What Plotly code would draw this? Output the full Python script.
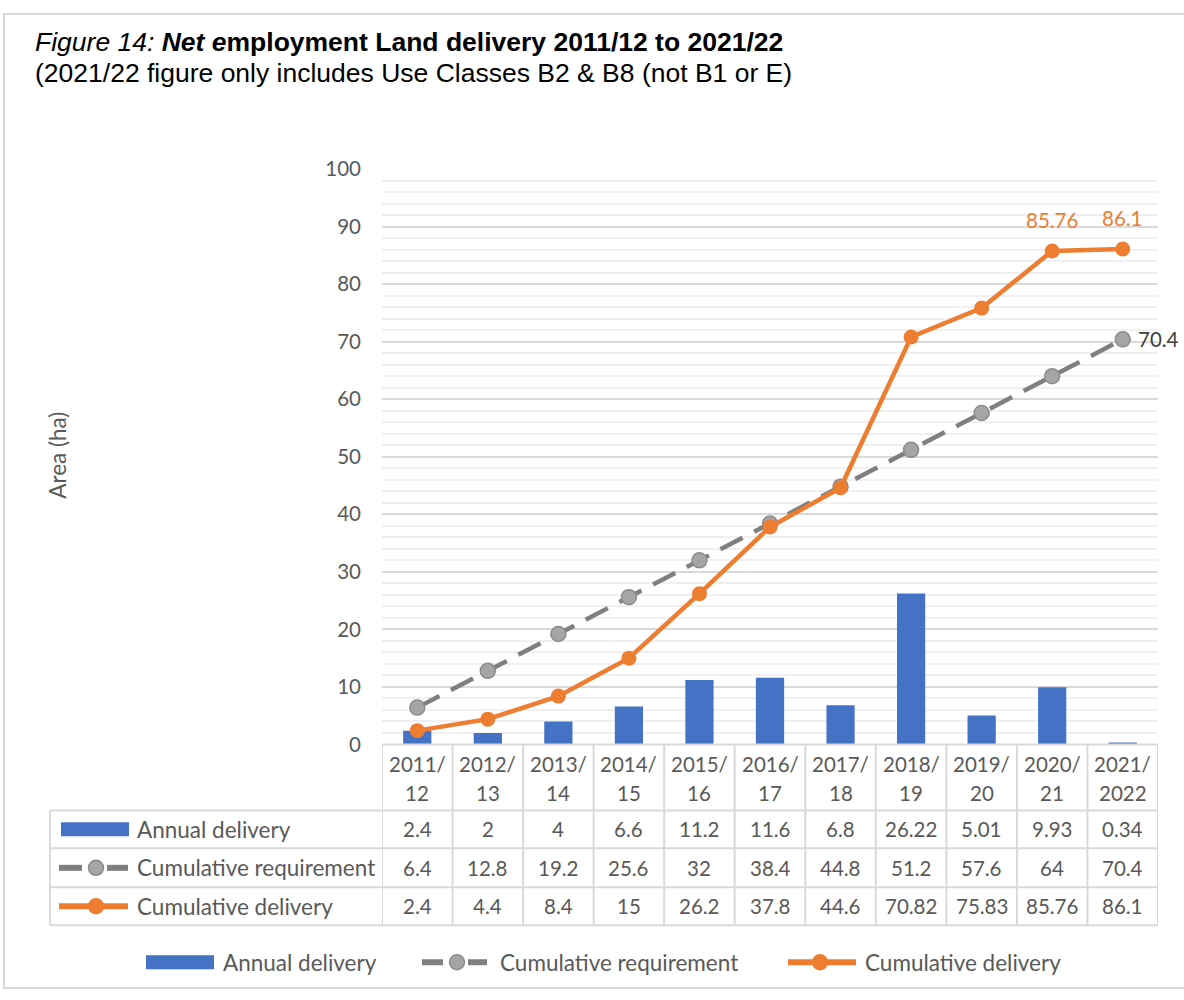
import plotly.graph_objects as go

# data
years = ["2011/12", "2012/13", "2013/14", "2014/15", "2015/16", "2016/17",
         "2017/18", "2018/19", "2019/20", "2020/21", "2021/2022"]
annual_delivery = [2.4, 2, 4, 6.6, 11.2, 11.6, 6.8, 26.22, 5.01, 9.93, 0.34]
cumulative_requirement = [6.4, 12.8, 19.2, 25.6, 32, 38.4, 44.8, 51.2, 57.6, 64, 70.4]
cumulative_delivery = [2.4, 4.4, 8.4, 15, 26.2, 37.8, 44.6, 70.82, 75.83, 85.76, 86.1]
series_names = ["Annual delivery", "Cumulative requirement", "Cumulative delivery"]

W, H = 1184, 1000
BLUE, GREY, GREY_DARK, ORANGE = "#4472C4", "#A5A5A5", "#7F7F7F", "#ED7D31"
TEXT = "#595959"
BORDER = "#D9D9D9"
FONT = "Lato"
NUM_SIZE = 20.5
LABEL_SIZE = 22.5

# the photographed page came out slightly squashed vertically, so target
# positions (measured on the reference) are mapped back before use
Y_OFF, Y_SCALE = 11.8, 0.977


def px(x):
    return x / W


def py(y):
    s = (y - Y_OFF) / Y_SCALE
    return min(max(1 - s / H, 0.001), 0.999)


PLOT_L, PLOT_R, PLOT_T, PLOT_B = 382, 1158, 168, 744
ROW_Y = [810, 848, 887, 925]  # horizontal lines of the data table

x = list(range(len(years)))
n = len(years)

fig = go.Figure()
fig.add_trace(go.Bar(
    x=x, y=annual_delivery, name=series_names[0], width=0.4,
    marker=dict(color=BLUE, line=dict(width=0)),
))
fig.add_trace(go.Scatter(
    x=x, y=cumulative_requirement, name=series_names[1], mode="lines+markers",
    line=dict(color=GREY_DARK, width=4.5, dash="25px,13px"),
    marker=dict(size=15, color=GREY, line=dict(color="#8C8C8C", width=1.5)),
))
fig.add_trace(go.Scatter(
    x=x, y=cumulative_delivery, name=series_names[2], mode="lines+markers",
    line=dict(color=ORANGE, width=4.5),
    marker=dict(size=15, color=ORANGE),
))

shapes = []
annotations = []

# data labels on the last points
for i in (n - 2, n - 1):
    annotations.append(dict(x=i, y=cumulative_delivery[i], xref="x", yref="y",
                            text=f"{cumulative_delivery[i]:g}", showarrow=False,
                            xanchor="center", yanchor="middle", yshift=31,
                            font=dict(family=FONT, size=NUM_SIZE, color=ORANGE)))
annotations.append(dict(x=n - 1, y=cumulative_requirement[-1], xref="x", yref="y",
                        text=f"{cumulative_requirement[-1]:g}", showarrow=False,
                        xanchor="left", yanchor="middle", xshift=13,
                        font=dict(family=FONT, size=NUM_SIZE, color="#404040")))

# outer frame
shapes.append(dict(type="rect", xref="paper", yref="paper", x0=px(4), x1=px(1190),
                   y0=py(4), y1=py(997), line=dict(color="#D9D9D9", width=2)))

# table grid
line_style = dict(color=BORDER, width=2)
for i in range(n + 1):
    shapes.append(dict(type="line", xref="x", yref="paper", x0=i - 0.5, x1=i - 0.5,
                       y0=py(PLOT_B), y1=py(ROW_Y[-1]), line=line_style))
shapes.append(dict(type="line", xref="paper", yref="paper", x0=px(50), x1=px(50),
                   y0=py(ROW_Y[0]), y1=py(ROW_Y[-1]), line=line_style))
shapes.append(dict(type="line", xref="paper", yref="paper", x0=px(PLOT_L), x1=px(PLOT_R),
                   y0=py(PLOT_B), y1=py(PLOT_B), line=line_style))
for ry in ROW_Y:
    shapes.append(dict(type="line", xref="paper", yref="paper", x0=px(50), x1=px(PLOT_R),
                       y0=py(ry), y1=py(ry), line=line_style))

# header (two-line category labels)
for i, label in enumerate(years):
    top, bottom = label.split("/")
    for text, yy in ((top + "/", 764), (bottom, 793)):
        annotations.append(dict(x=i, xref="x", y=py(yy), yref="paper", text=text,
                                xanchor="center", yanchor="middle", showarrow=False,
                                font=dict(family=FONT, size=NUM_SIZE, color=TEXT)))

# table values
rows = [annual_delivery, cumulative_requirement, cumulative_delivery]
for r, values in enumerate(rows):
    yc = (ROW_Y[r] + ROW_Y[r + 1]) / 2
    for i, v in enumerate(values):
        annotations.append(dict(x=i, xref="x", y=py(yc), yref="paper", text=f"{v:g}",
                                xanchor="center", yanchor="middle", showarrow=False,
                                font=dict(family=FONT, size=NUM_SIZE, color=TEXT)))


def add_key(kind, x0, x1, xc, yc):
    """Draw a legend key (bar swatch or line+marker) in pixel coordinates."""
    if kind == 0:
        shapes.append(dict(type="rect", xref="paper", yref="paper", x0=px(x0), x1=px(x1),
                           y0=py(yc - 7), y1=py(yc + 7), fillcolor=BLUE, line=dict(width=0)))
        return
    color = GREY_DARK if kind == 1 else ORANGE
    fill = GREY if kind == 1 else ORANGE
    if kind == 1:
        segs = [(x0, xc - 14), (xc + 11, x1)]
    else:
        segs = [(x0, x1)]
    for a, b in segs:
        shapes.append(dict(type="line", xref="paper", yref="paper", x0=px(a), x1=px(b),
                           y0=py(yc), y1=py(yc), line=dict(color=color, width=6)))
    shapes.append(dict(type="circle", xref="paper", yref="paper", x0=px(xc - 7.5), x1=px(xc + 7.5),
                       y0=py(yc - 7.5), y1=py(yc + 7.5), fillcolor=fill,
                       line=dict(color="#8C8C8C" if kind == 1 else ORANGE, width=1.5)))


# row names with keys in the table
for r, name in enumerate(series_names):
    yc = (ROW_Y[r] + ROW_Y[r + 1]) / 2
    if r == 0:
        add_key(0, 61, 129, 95, yc)
    else:
        add_key(r, 59, 128, 96, yc)
    annotations.append(dict(x=px(135), xref="paper", y=py(yc), yref="paper", text=name,
                            xanchor="left", yanchor="middle", showarrow=False,
                            font=dict(family=FONT, size=LABEL_SIZE, color=TEXT)))

# legend below the table
legend_keys = [(146, 214, 180, 221), (422, 487, 457, 498), (788, 856, 820, 863)]
for r, (k0, k1, kc, tx) in enumerate(legend_keys):
    add_key(r, k0, k1, kc, 962)
    annotations.append(dict(x=px(tx), xref="paper", y=py(962), yref="paper",
                            text=series_names[r], xanchor="left", yanchor="middle",
                            showarrow=False,
                            font=dict(family=FONT, size=LABEL_SIZE, color=TEXT)))

# y axis title
annotations.append(dict(x=px(58), xref="paper", y=py(455), yref="paper", text="Area (ha)",
                        textangle=-90, xanchor="center", yanchor="middle", showarrow=False,
                        font=dict(family=FONT, size=LABEL_SIZE, color=TEXT)))

# titles
annotations.append(dict(x=px(33), xref="paper", y=py(41), yref="paper",
                        xanchor="left", yanchor="middle",
                        text="<i>Figure 14:</i> <b><i>Net e</i>mployment Land delivery 2011/12 to 2021/22</b>",
                        showarrow=False,
                        font=dict(family="Liberation Sans", size=26.5, color="black")))
annotations.append(dict(x=px(33), xref="paper", y=py(72), yref="paper",
                        xanchor="left", yanchor="middle",
                        text="(2021/22 figure only includes Use Classes B2 & B8 (not B1 or E)",
                        showarrow=False,
                        font=dict(family="Liberation Sans", size=26.5, color="black")))

fig.update_layout(
    width=W, height=H,
    margin=dict(l=0, r=0, t=0, b=0),
    paper_bgcolor="white", plot_bgcolor="white",
    showlegend=False,
    xaxis=dict(domain=[px(PLOT_L), px(PLOT_R)], range=[-0.5, n - 0.5],
               showticklabels=False, showgrid=False, zeroline=False, fixedrange=True),
    yaxis=dict(domain=[py(PLOT_B), py(PLOT_T)], range=[0, 100], dtick=10,
               showgrid=True, gridcolor="#D9D9D9", gridwidth=1.5,
               minor=dict(dtick=2, showgrid=True, gridcolor="#F0F0F0", gridwidth=1.5),
               zeroline=False, ticklabelstandoff=20,
               tickfont=dict(family=FONT, size=NUM_SIZE, color=TEXT)),
    shapes=shapes,
    annotations=annotations,
)

# drop the browser's default page margin so the figure sits at the window origin
fig.write_html("out.html", config={"displayModeBar": False},
               post_script="document.body.style.margin = '0';")
